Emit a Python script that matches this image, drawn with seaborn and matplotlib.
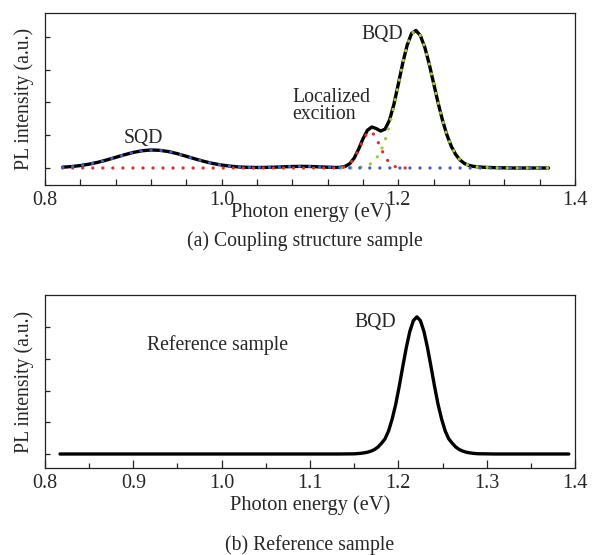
import matplotlib
matplotlib.use("Agg")
import matplotlib.pyplot as plt
import seaborn as sns
import pandas as pd
from matplotlib.ticker import FixedLocator, MultipleLocator, FormatStrFormatter, NullFormatter

# ---------------- data ----------------
# (a) coupling structure sample: total spectrum
energy_a = [0.82, 0.83, 0.84, 0.85, 0.86, 0.87, 0.88, 0.89, 0.90, 0.91, 0.92, 0.93, 0.94, 0.95,
            0.96, 0.97, 0.98, 0.99, 1.00, 1.01, 1.02, 1.03, 1.04, 1.05, 1.06, 1.07, 1.08, 1.09,
            1.10, 1.11, 1.12, 1.13, 1.135, 1.14, 1.145, 1.15, 1.155, 1.16, 1.165, 1.17, 1.175,
            1.18, 1.185, 1.19, 1.195, 1.20, 1.205, 1.21, 1.215, 1.22, 1.225, 1.23, 1.235, 1.24,
            1.245, 1.25, 1.255, 1.26, 1.265, 1.27, 1.275, 1.28, 1.285, 1.29, 1.295, 1.30, 1.31,
            1.32, 1.33, 1.34, 1.35, 1.36, 1.37]
total_a = [0.025, 0.044, 0.074, 0.118, 0.175, 0.246, 0.325, 0.405, 0.476, 0.527, 0.550, 0.540,
           0.500, 0.436, 0.358, 0.277, 0.202, 0.139, 0.090, 0.055, 0.031, 0.020, 0.016, 0.018,
           0.026, 0.036, 0.046, 0.050, 0.046, 0.036, 0.024, 0.017, 0.022, 0.052, 0.132, 0.302,
           0.573, 0.895, 1.153, 1.252, 1.203, 1.129, 1.187, 1.461, 1.945, 2.566, 3.204, 3.75,
           4.11, 4.20, 4.04, 3.68, 3.17, 2.58, 1.99, 1.46, 1.01, 0.66, 0.41, 0.24, 0.135, 0.08,
           0.05, 0.035, 0.025, 0.018, 0.010, 0.005, 0.0, 0.0, 0.0, 0.0, 0.0]

# fitted components (dotted)
sqd_energy = [0.82, 0.83, 0.84, 0.85, 0.86, 0.87, 0.88, 0.89, 0.90, 0.91, 0.92, 0.93, 0.94, 0.95,
              0.96, 0.97, 0.98, 0.99, 1.00, 1.01, 1.02, 1.03, 1.04, 1.05, 1.06, 1.07, 1.08, 1.09,
              1.10, 1.11, 1.12, 1.13, 1.14, 1.15, 1.16, 1.20, 1.30, 1.37]
sqd_int = [0.025, 0.044, 0.074, 0.118, 0.175, 0.246, 0.325, 0.405, 0.476, 0.527, 0.550, 0.540,
           0.500, 0.436, 0.358, 0.277, 0.202, 0.139, 0.090, 0.055, 0.031, 0.020, 0.016, 0.018,
           0.026, 0.036, 0.046, 0.050, 0.046, 0.036, 0.024, 0.014, 0.007, 0.003, 0.001, 0.0,
           0.0, 0.0]

lx_energy = [0.82, 1.00, 1.12, 1.13, 1.135, 1.14, 1.145, 1.15, 1.155, 1.16, 1.165, 1.17, 1.175,
             1.18, 1.185, 1.19, 1.195, 1.20, 1.205, 1.21]
lx_int = [0.0, 0.0, 0.0, 0.003, 0.012, 0.044, 0.125, 0.293, 0.557, 0.860, 1.079, 1.102, 0.915,
          0.618, 0.339, 0.151, 0.055, 0.016, 0.004, 0.0]

bqd_energy = [1.135, 1.14, 1.145, 1.15, 1.155, 1.16, 1.165, 1.17, 1.175, 1.18, 1.185, 1.19,
              1.195, 1.20, 1.205, 1.21, 1.215, 1.22, 1.225, 1.23, 1.235, 1.24, 1.245, 1.25,
              1.255, 1.26, 1.265, 1.27, 1.275, 1.28, 1.285, 1.29, 1.295, 1.30, 1.31, 1.32,
              1.33, 1.37]
bqd_int = [0.0, 0.001, 0.002, 0.006, 0.014, 0.034, 0.074, 0.150, 0.288, 0.511, 0.848, 1.31,
           1.89, 2.55, 3.20, 3.75, 4.11, 4.20, 4.04, 3.68, 3.17, 2.58, 1.99, 1.46, 1.01, 0.66,
           0.41, 0.24, 0.135, 0.08, 0.05, 0.035, 0.025, 0.018, 0.010, 0.005, 0.0, 0.0]

# (b) reference sample
energy_b = [0.817, 0.85, 0.90, 0.95, 1.00, 1.05, 1.10, 1.13, 1.15, 1.157, 1.161, 1.165, 1.169,
            1.173, 1.177, 1.181, 1.185, 1.189, 1.193, 1.197, 1.201, 1.205, 1.209, 1.213, 1.217,
            1.221, 1.225, 1.229, 1.233, 1.237, 1.241, 1.245, 1.249, 1.253, 1.257, 1.261, 1.265,
            1.269, 1.273, 1.277, 1.281, 1.285, 1.29, 1.31, 1.35, 1.393]
intensity_b = [0.0, 0.0, 0.0, 0.0, 0.0, 0.0, 0.0, 0.0, 0.005, 0.02, 0.035, 0.056, 0.09, 0.14,
               0.22, 0.34, 0.48, 0.73, 1.10, 1.56, 2.13, 2.75, 3.35, 3.86, 4.20, 4.32, 4.20,
               3.86, 3.35, 2.75, 2.13, 1.56, 1.10, 0.73, 0.48, 0.34, 0.22, 0.14, 0.09, 0.056,
               0.035, 0.02, 0.008, 0.0, 0.0, 0.0]

xticks_a = [0.8, 1.0, 1.2, 1.4]
xticks_b = [0.8, 0.9, 1.0, 1.1, 1.2, 1.3, 1.4]
yticks = [0, 1, 2, 3, 4]

# ---------------- style ----------------
sns.set_style("ticks")
plt.rcParams["font.family"] = ["Liberation Serif", "DejaVu Serif"]
plt.rcParams["axes.edgecolor"] = "#222222"
plt.rcParams["axes.linewidth"] = 0.9

W, H = 596, 555
fig = plt.figure(figsize=(W / 100, H / 100), dpi=100)
ax1 = fig.add_axes([45 / W, 1 - 185 / H, 530 / W, 172.5 / H])
ax2 = fig.add_axes([45 / W, 1 - 468 / H, 530 / W, 173 / H])

dot = (0, (0.01, 3.0))

# top panel
sns.lineplot(x=energy_a, y=total_a, ax=ax1, color="black", linewidth=2.4, zorder=2)
sns.lineplot(x=sqd_energy, y=sqd_int, ax=ax1, color="#3f5fc8", linewidth=2.4,
             linestyle=dot, dash_capstyle="round", zorder=4)
sns.lineplot(x=lx_energy, y=lx_int, ax=ax1, color="#e0302a", linewidth=2.4,
             linestyle=dot, dash_capstyle="round", zorder=3)
sns.lineplot(x=bqd_energy, y=bqd_int, ax=ax1, color="#9ccc3a", linewidth=2.4,
             linestyle=dot, dash_capstyle="round", zorder=3)

# bottom panel
sns.lineplot(x=energy_b, y=intensity_b, ax=ax2, color="black", linewidth=2.4)

fs = 14.2
ax1.set_xlim(0.8, 1.4)
ax1.set_ylim(-0.519, 4.748)
ax2.set_xlim(0.8, 1.4)
ax2.set_ylim(-0.441, 5.008)

for ax in (ax1, ax2):
    ax.set_yticks(yticks)
    ax.yaxis.set_major_formatter(NullFormatter())
    ax.tick_params(axis="y", which="both", direction="in", length=3.3, width=0.9,
                   left=True, right=False, color="#222222")
    ax.tick_params(axis="x", which="both", direction="in", width=0.9, top=False,
                   bottom=True, color="#222222", labelsize=14.5, pad=4.5)
    ax.xaxis.set_major_formatter(FormatStrFormatter("%.1f"))
    ax.set_ylabel("PL intensity (a.u.)", fontsize=fs)
    ax.yaxis.set_label_coords(-0.04, 0.5)
    ax.yaxis.label.set_va("center")
    ax.set_xlabel("Photon energy (eV)", fontsize=14.7)
    ax.xaxis.label.set_va("center")
    for s in ax.spines.values():
        s.set_visible(True)

ax1.xaxis.set_major_locator(FixedLocator(xticks_a))
ax1.xaxis.set_minor_locator(MultipleLocator(0.04))
ax1.tick_params(axis="x", which="both", length=4.5)
ax1.xaxis.set_label_coords(0.502, (185 - 212) / 172.5)

ax2.xaxis.set_major_locator(FixedLocator(xticks_b))
ax2.xaxis.set_minor_locator(MultipleLocator(0.05))
ax2.tick_params(axis="x", which="major", length=5.5)
ax2.tick_params(axis="x", which="minor", length=3.5)
ax2.xaxis.set_label_coords(0.5, (468 - 505) / 173)

# annotations
ax1.text(0.911, 0.754, "SQD", fontsize=fs, ha="center", va="baseline")
ax1.text(1.0797, 1.51, "Localized\nexcition", fontsize=fs, ha="left", va="baseline",
         linespacing=0.82)
ax1.text(1.182, 3.93, "BQD", fontsize=fs, ha="center", va="baseline")

ax2.text(0.9155, 3.28, "Reference sample", fontsize=fs, ha="left", va="baseline")
ax2.text(1.1737, 4.01, "BQD", fontsize=fs, ha="center", va="baseline")

fig.text(305 / W, 1 - 241 / H, "(a) Coupling structure sample", fontsize=fs,
         ha="center", va="center")
fig.text(310 / W, 1 - 545 / H, "(b) Reference sample", fontsize=fs,
         ha="center", va="center")

fig.savefig("out.png", dpi=100)
